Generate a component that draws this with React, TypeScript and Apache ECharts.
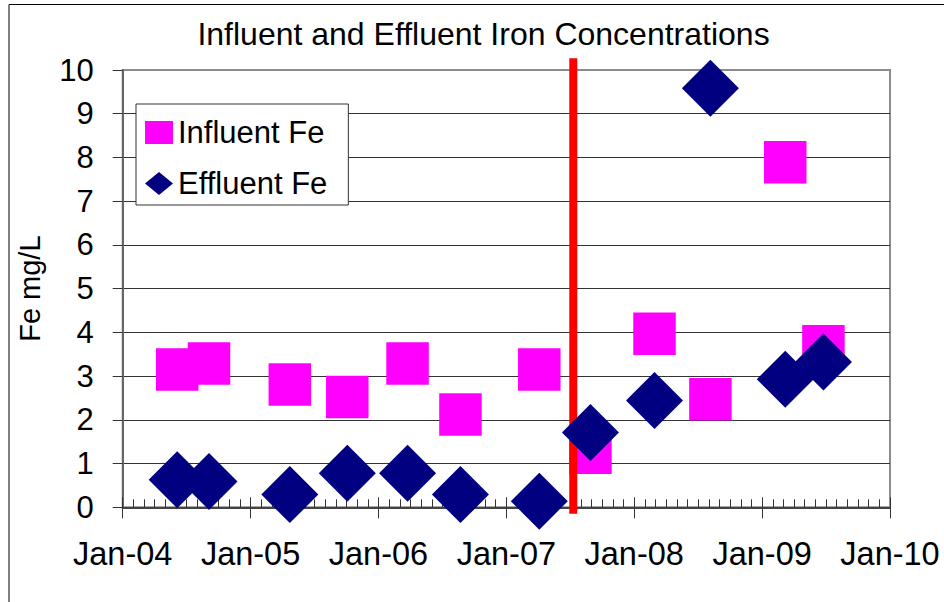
import React, { useEffect, useRef } from "react";
import * as echarts from "echarts";

// Sampling dates (shared by influent and effluent samples)
const sampleDates = [
  "2004-06-05", "2004-09-04", "2005-04-23", "2005-10-04", "2006-03-25", "2006-08-23",
  "2007-04-05", "2007-08-29", "2008-02-28", "2008-08-06", "2009-03-08", "2009-06-25",
];
const influentFe = [3.15, 3.29, 2.81, 2.52, 3.29, 2.12, 3.15, 1.25, 3.97, 2.47, 7.89, 3.68];
const effluentFe = [0.63, 0.59, 0.29, 0.78, 0.78, 0.29, 0.14, 1.71, 2.44, 9.58, 2.93, 3.32];

// Treatment change marker (vertical red line)
const changeDate = "2007-07-11";
const changeLineRange = [-0.15, 10.27];

const xTickYears = [2004, 2005, 2006, 2007, 2008, 2009, 2010];
const yTicks = [0, 1, 2, 3, 4, 5, 6, 7, 8, 9, 10];

const FONT = "'Liberation Sans', Arial, sans-serif";

function toYear(s: string): number {
  const d = new Date(s + "T00:00:00Z");
  const y = d.getUTCFullYear();
  const start = Date.UTC(y, 0, 1);
  const end = Date.UTC(y + 1, 0, 1);
  return y + (d.getTime() - start) / (end - start);
}

export default function App() {
  const ref = useRef<HTMLDivElement>(null);
  useEffect(() => {
    if (!ref.current) return;
    const chart = echarts.init(ref.current, undefined, { renderer: "svg" });
    const xMin = xTickYears[0];
    const xMax = xTickYears[xTickYears.length - 1];
    const yMin = yTicks[0];
    const yMax = yTicks[yTicks.length - 1];
    const gridColors = yTicks.map((v) => (v === yMax ? "#8c8c8c" : "#333"));
    const cx = toYear(changeDate);

    chart.setOption({
      animation: false,
      backgroundColor: "#fff",
      title: {
        text: "Influent and Effluent Iron Concentrations",
        left: 478.5,
        top: 13,
        textAlign: "center",
        textStyle: { fontFamily: FONT, fontSize: 32, fontWeight: "normal", color: "#000" },
      },
      legend: {
        data: ["Influent Fe", "Effluent Fe"],
        orient: "vertical",
        left: 136,
        top: 104,
        padding: [13, 21, 6, 9],
        itemGap: 20,
        itemWidth: 28,
        itemHeight: 23,
        backgroundColor: "#fff",
        borderColor: "#333",
        borderWidth: 1,
        borderRadius: 0,
        textStyle: { fontFamily: FONT, fontSize: 31, color: "#000" },
      },
      grid: {
        left: 122.7,
        right: 54,
        top: 70,
        bottom: 94.7,
        show: true,
        borderColor: "#8c8c8c",
        borderWidth: 2,
        backgroundColor: "transparent",
      },
      xAxis: [
        {
          type: "value",
          min: xMin,
          max: xMax,
          interval: 1,
          position: "bottom",
          axisLine: { show: true, onZero: false, lineStyle: { color: "#444", width: 2 } },
          axisTick: { show: true, inside: true, length: 10, lineStyle: { color: "#333", width: 1 } },
          minorTick: { show: true, splitNumber: 12, length: 8, lineStyle: { color: "#333", width: 1 } },
          axisLabel: { show: false },
          splitLine: { show: false },
        },
        {
          type: "value",
          min: xMin,
          max: xMax,
          interval: 1,
          position: "bottom",
          offset: 0,
          axisLine: { show: false, onZero: false },
          axisTick: { show: true, inside: false, length: 11, lineStyle: { color: "#333", width: 1 } },
          axisLabel: {
            show: true,
            margin: 30,
            fontFamily: FONT,
            fontSize: 32.5,
            color: "#000",
            formatter: (v: number) => "Jan-" + String(Math.round(v) % 100).padStart(2, "0"),
          },
          splitLine: { show: false },
        },
      ],
      yAxis: {
        type: "value",
        min: yMin,
        max: yMax,
        interval: 1,
        name: "Fe mg/L",
        nameLocation: "middle",
        nameRotate: 90,
        nameGap: 78,
        nameTextStyle: { fontFamily: FONT, fontSize: 29, color: "#000" },
        axisLine: { show: true, onZero: false, lineStyle: { color: "#666", width: 2 } },
        axisTick: { show: true, inside: false, length: 10, lineStyle: { color: "#333", width: 1 } },
        axisLabel: { margin: 29, fontFamily: FONT, fontSize: 31, color: "#000" },
        splitLine: { show: true, lineStyle: { color: gridColors, width: 1 } },
      },
      graphic: [
        {
          type: "rect",
          shape: { x: 9, y: 4.5, width: 1200, height: 800 },
          style: { fill: "none", stroke: "#000", lineWidth: 1 },
          silent: true,
          z: -10,
        },
      ],
      series: [
        {
          name: "Influent Fe",
          type: "scatter",
          xAxisIndex: 0,
          symbol: "rect",
          symbolSize: 42.5,
          clip: false,
          itemStyle: { color: "#ff00ff", opacity: 1 },
          data: sampleDates.map((d, i) => [toYear(d), influentFe[i]]),
          z: 2,
        },
        {
          name: "Change",
          type: "line",
          xAxisIndex: 0,
          symbol: "none",
          clip: false,
          lineStyle: { color: "#ff0000", width: 8 },
          data: changeLineRange.map((v) => [cx, v]),
          z: 3,
          silent: true,
        },
        {
          name: "Effluent Fe",
          type: "scatter",
          xAxisIndex: 0,
          symbol: "diamond",
          symbolSize: 57,
          clip: false,
          itemStyle: { color: "#000080", opacity: 1 },
          data: sampleDates.map((d, i) => [toYear(d), effluentFe[i]]),
          z: 4,
        },
      ],
    });
    return () => chart.dispose();
  }, []);
  return <div ref={ref} style={{ width: 944, height: 602, position: "absolute", left: 0, top: 0 }} />;
}
